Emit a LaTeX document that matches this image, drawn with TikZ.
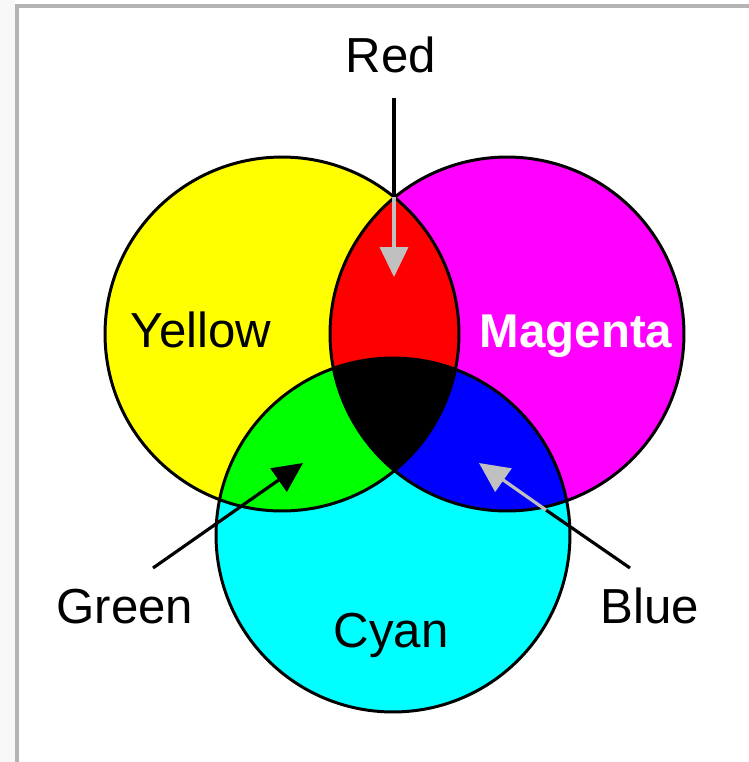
\documentclass[tikz,border=0pt]{standalone}
\usepackage{fontspec}
\setmainfont{Liberation Sans}
\usepackage{xcolor}
\usetikzlibrary{arrows.meta}

\definecolor{pxyellow}{HTML}{FFFF00}
\definecolor{pxmagenta}{HTML}{FF00FF}
\definecolor{pxcyan}{HTML}{00FFFF}
\definecolor{pxred}{HTML}{FF0000}
\definecolor{pxgreen}{HTML}{00FF00}
\definecolor{pxblue}{HTML}{0000FF}
\definecolor{pxsilver}{HTML}{C0C0C0}
\definecolor{pxframe}{HTML}{B4B4B4}
\definecolor{pxstrip}{HTML}{F8F8F8}

\begin{document}
\begin{tikzpicture}[x=0.02cm, y=-0.02cm,
  every node/.style={font=\fontsize{28}{30}\selectfont, inner sep=0pt, anchor=base},
  rim/.style={draw=black, line width=1.7pt},
  pointer/.style={line width=1.8pt, -{Triangle[length=17pt,width=16pt]}}]
  \useasboundingbox (0,0) rectangle (749,762);
  \fill[white] (0,0) rectangle (749,762);
  \fill[pxstrip] (0,0) rectangle (15,762);
  \fill[pxframe] (15,4) rectangle (19,762);
  \fill[pxframe] (15,4) rectangle (749,8);

  \coordinate (ycen) at (282,334);
  \coordinate (mcen) at (507,334);
  \coordinate (ccen) at (393,535);

  % the three discs and their overlaps
  \fill[pxyellow] (ycen) circle[radius=3.54cm];
  \fill[pxmagenta] (mcen) circle[radius=3.54cm];
  \fill[pxcyan] (ccen) circle[radius=3.54cm];
  \begin{scope}
    \clip (mcen) circle[radius=3.54cm];
    \fill[pxblue] (ccen) circle[radius=3.54cm];
  \end{scope}
  \begin{scope}
    \clip (ycen) circle[radius=3.54cm];
    \fill[pxred] (mcen) circle[radius=3.54cm];
    \fill[pxgreen] (ccen) circle[radius=3.54cm];
    \clip (mcen) circle[radius=3.54cm];
    \fill[black] (ccen) circle[radius=3.54cm];
  \end{scope}
  \draw[rim] (ycen) circle[radius=3.54cm];
  \draw[rim] (mcen) circle[radius=3.54cm];
  \draw[rim] (ccen) circle[radius=3.54cm];

  % labels
  \node (red) at (391,72) {Red};
  \node (yellow) at (201,347) {Yellow};
  \node[text=white, font=\fontsize{27}{30}\selectfont\bfseries] (magenta) at (576,347) {Magenta};
  \node (green) at (125,623) {Green};
  \node (cyan) at (391,647) {Cyan};
  \node (blue) at (650,623) {Blue};

  % pointers
  \coordinate (redfoot) at (394,98);
  \coordinate (apex) at (394,197);
  \coordinate (redtip) at (394,277);
  \draw[line width=1.8pt] (redfoot) -- (apex);
  \draw[pointer, pxsilver] (apex) -- (redtip);

  \coordinate (greenfoot) at (153,568);
  \coordinate (greentip) at (303,463);
  \draw[pointer] (greenfoot) -- (greentip);

  \coordinate (bluefoot) at (630,568);
  \coordinate (bluecross) at (546,510);
  \coordinate (bluetip) at (479,463);
  \draw[line width=1.8pt] (bluefoot) -- (bluecross);
  \draw[pointer, pxsilver] (bluecross) -- (bluetip);
\end{tikzpicture}
\end{document}
